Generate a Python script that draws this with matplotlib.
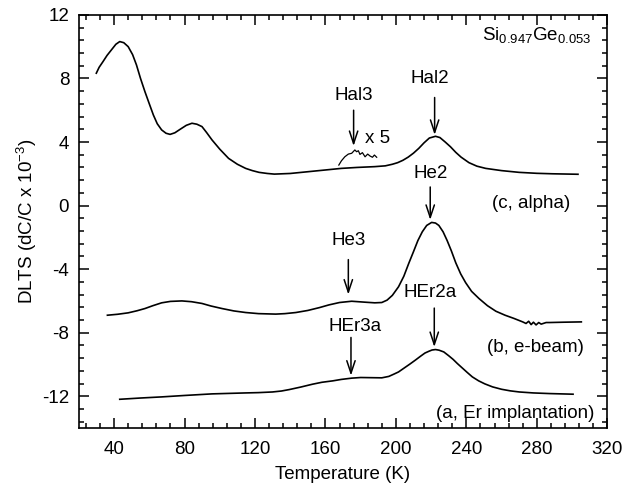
import matplotlib
matplotlib.use("Agg")
import matplotlib.pyplot as plt
from matplotlib.ticker import MultipleLocator

plt.rcParams['font.family'] = ['Liberation Sans', 'DejaVu Sans']
plt.rcParams['mathtext.fontset'] = 'custom'
plt.rcParams['mathtext.rm'] = 'Liberation Sans'
plt.rcParams['mathtext.it'] = 'Liberation Sans'
plt.rcParams['mathtext.default'] = 'regular'
plt.rcParams['axes.unicode_minus'] = False

# (c) alpha-irradiated sample
t_alpha = [29.9, 31.5, 33.7, 36.0, 38.5, 41.0, 43.2, 45.5, 48.0, 50.5, 52.7, 55.0,
           57.5, 60.0, 62.3, 64.5, 67.0, 69.5, 71.8, 74.5, 77.5, 81.0, 84.2, 87.0,
           89.9, 92.5, 95.6, 100.0, 105.0, 110.0, 114.7, 118.5, 122.3, 127.0, 131.0,
           140.0, 150.0, 160.0, 169.0, 178.0, 188.0, 194.0, 198.0, 201.0, 204.0,
           207.0, 210.0, 213.0, 216.0, 219.0, 222.5, 225.0, 228.0, 231.0, 234.0,
           237.0, 241.5, 246.0, 251.0, 260.0, 270.0, 280.0, 289.0, 303.4]
dlts_alpha = [8.33, 8.70, 9.06, 9.45, 9.80, 10.15, 10.32, 10.25, 10.00, 9.50, 8.85, 8.00,
              7.17, 6.40, 5.70, 5.15, 4.76, 4.55, 4.48, 4.58, 4.80, 5.05, 5.18, 5.12,
              4.97, 4.60, 4.13, 3.55, 2.97, 2.60, 2.34, 2.20, 2.09, 2.02, 1.98,
              2.02, 2.13, 2.24, 2.34, 2.40, 2.45, 2.50, 2.60, 2.70, 2.85,
              3.05, 3.30, 3.60, 3.95, 4.25, 4.36, 4.28, 4.00, 3.70, 3.35,
              3.05, 2.70, 2.48, 2.34, 2.20, 2.09, 2.03, 2.00, 1.97]

# x5 magnified section around Hal3
t_x5 = [167.6, 169.1, 171.0, 173.0, 174.9, 176.7, 177.7, 178.7, 179.6, 181.0, 182.5,
        184.0, 185.3, 186.7, 187.8, 189.1]
dlts_x5 = [2.55, 2.82, 3.07, 3.24, 3.29, 3.50, 3.39, 3.45, 3.22, 3.33, 3.07,
           3.24, 3.12, 3.04, 3.18, 3.04]

# (b) e-beam irradiated sample
t_ebeam = [36.2, 42.0, 48.0, 53.0, 57.5, 62.0, 67.0, 72.0, 78.5, 84.0, 89.9, 95.0,
           101.3, 108.0, 114.7, 122.0, 131.8, 137.0, 143.2, 150.0, 156.6, 162.0,
           168.0, 174.9, 182.5, 188.0, 192.0, 195.0, 198.0, 201.5, 204.5, 207.3,
           210.0, 212.5, 215.0, 217.5, 220.3, 222.5, 224.4, 226.8, 229.1, 231.5,
           234.0, 236.8, 239.6, 243.0, 247.2, 252.0, 256.8, 262.0, 267.0, 272.0,
           273.9, 275.4, 276.8, 278.1, 279.6, 281.1, 282.5, 285.3, 287.2, 294.9, 305.3]
dlts_ebeam = [-6.90, -6.84, -6.75, -6.62, -6.48, -6.30, -6.12, -6.03, -6.00, -6.05, -6.16, -6.32,
              -6.48, -6.63, -6.73, -6.80, -6.83, -6.80, -6.73, -6.60, -6.42, -6.25,
              -6.10, -6.02, -6.08, -6.12, -6.10, -5.95, -5.65, -5.11, -4.45, -3.64,
              -2.90, -2.20, -1.65, -1.25, -1.06, -1.10, -1.25, -1.65, -2.20, -2.85,
              -3.60, -4.30, -4.85, -5.40, -5.85, -6.30, -6.65, -6.90, -7.10, -7.32,
              -7.42, -7.28, -7.49, -7.34, -7.51, -7.36, -7.46, -7.36, -7.36, -7.34, -7.32]

# (a) Er-implanted sample
t_er = [43.2, 55.0, 67.0, 80.0, 95.6, 105.0, 114.7, 122.0, 129.9, 135.0, 139.4, 146.0,
        152.7, 158.0, 164.2, 169.0, 174.9, 180.0, 186.0, 192.0, 196.0, 199.0, 201.5,
        205.0, 208.0, 211.0, 214.0, 216.5, 218.7, 220.5, 222.5, 224.5, 227.2, 230.0,
        232.5, 234.9, 238.0, 240.5, 243.4, 247.0, 250.5, 254.9, 260.0, 265.0, 270.1,
        278.0, 287.2, 300.6]
dlts_er = [-12.19, -12.11, -12.04, -11.95, -11.85, -11.82, -11.79, -11.77, -11.73, -11.67, -11.58, -11.42,
           -11.24, -11.12, -11.03, -10.94, -10.86, -10.82, -10.83, -10.84, -10.75, -10.60, -10.47,
           -10.20, -9.97, -9.73, -9.48, -9.28, -9.17, -9.09, -9.06, -9.10, -9.21, -9.45,
           -9.68, -9.94, -10.25, -10.50, -10.78, -11.03, -11.22, -11.41, -11.56, -11.66, -11.73,
           -11.79, -11.83, -11.87]

# peak labels: (text, text_x, text_y, arrow_x, arrow_top, arrow_tip)
peak_labels = [
    ("Hal3", 176.0, 6.9, 176.0, 6.0, 3.75),
    ("Hal2", 219.0, 8.0, 222.0, 6.8, 4.45),
    ("He2", 219.5, 2.0, 219.5, 1.17, -0.9),
    ("He3", 173.0, -2.17, 173.0, -3.4, -5.6),
    ("HEr2a", 219.4, -5.5, 221.8, -6.45, -8.9),
    ("HEr3a", 176.6, -7.6, 174.5, -8.3, -10.7),
]
sample_labels = [
    ("(c, alpha)", 276.6, 0.1),
    ("(b, e-beam)", 279.4, -8.9),
    ("(a, Er implantation)", 268.0, -13.1),
]

fs = 13.5
fig = plt.figure(figsize=(6.26, 4.96), dpi=100)
ax = fig.add_axes([0.126, 0.137, 0.844, 0.833])

lw = 1.2
ax.plot(t_alpha, dlts_alpha, color='black', lw=lw)
ax.plot(t_x5, dlts_x5, color='black', lw=0.9)
ax.plot(t_ebeam, dlts_ebeam, color='black', lw=lw)
ax.plot(t_er, dlts_er, color='black', lw=lw)

for name, tx, ty, ax_x, a_top, a_tip in peak_labels:
    ax.text(tx, ty, name, ha='center', va='center', fontsize=fs)
    ax.annotate('', xy=(ax_x, a_tip), xytext=(ax_x, a_top),
                arrowprops=dict(arrowstyle='->,head_length=0.9,head_width=0.3',
                                lw=1.1, color='black', shrinkA=0, shrinkB=0))

for name, tx, ty in sample_labels:
    ax.text(tx, ty, name, ha='center', va='center', fontsize=fs)

ax.text(182.3, 4.25, "x 5", ha='left', va='center', fontsize=fs)
ax.text(311.0, 10.75, r"Si$_{0.947}$Ge$_{0.053}$", ha='right', va='center', fontsize=fs)

ax.set_xlim(20, 320)
ax.set_ylim(-14, 12)
ax.xaxis.set_major_locator(MultipleLocator(40))
ax.xaxis.set_minor_locator(MultipleLocator(8))
ax.yaxis.set_major_locator(MultipleLocator(4))
ax.yaxis.set_minor_locator(MultipleLocator(0.8))
ax.tick_params(which='both', direction='in', top=True, right=True, labelsize=fs, width=1.1)
ax.tick_params(which='major', length=7)
ax.tick_params(which='minor', length=3.6)
ax.tick_params(axis='x', which='major', pad=9)
ax.tick_params(axis='y', which='major', pad=7)
for s in ax.spines.values():
    s.set_linewidth(1.2)

ax.set_xlabel("Temperature (K)", fontsize=fs, labelpad=6)
ax.set_ylabel(r"DLTS (dC/C x 10$^{-3}$)", fontsize=fs, labelpad=2)

fig.savefig("out.png", dpi=100)
